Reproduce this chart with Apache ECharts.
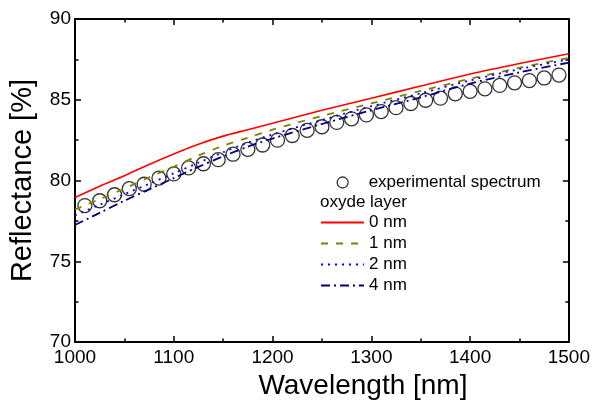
<!DOCTYPE html>
<html>
<head>
<meta charset="utf-8">
<script src="https://cdn.jsdelivr.net/npm/echarts@6/dist/echarts.min.js"></script>
<style>html,body{margin:0;padding:0;background:#fff;}#c{width:593px;height:405px;}</style>
</head>
<body>
<div id="c"></div>
<script>
// Experimental spectrum (circles)
const expWavelength = [1010,1025,1040,1055,1070,1085,1100,1115,1130,1145,1160,1175,1190,1205,1220,1235,1250,1265,1280,1295,1310,1325,1340,1355,1370,1385,1400,1415,1430,1445,1460,1475,1490];
const expReflectance = [78.45,78.75,79.12,79.5,79.77,80.15,80.41,80.78,81.04,81.29,81.63,81.93,82.2,82.5,82.79,83.11,83.33,83.6,83.82,84.06,84.27,84.51,84.77,84.97,85.1,85.37,85.52,85.68,85.89,86.05,86.19,86.35,86.53];

// Simulated spectra for oxide layer thicknesses
const modelWavelength = [1000,1025,1050,1075,1100,1125,1150,1175,1200,1250,1300,1350,1400,1450,1500];
const r0nm = [78.95,79.65,80.3,81.0,81.65,82.25,82.75,83.15,83.55,84.35,85.1,85.85,86.6,87.25,87.85];
const r1nm = [78.2,78.85,79.5,80.2,80.85,81.55,82.15,82.65,83.15,84.0,84.78,85.55,86.3,86.98,87.6];
const r2nm = [77.85,78.5,79.15,79.8,80.45,81.1,81.75,82.35,82.85,83.75,84.6,85.4,86.2,86.9,87.5];
const r4nm = [77.25,78.0,78.75,79.45,80.15,80.85,81.5,82.1,82.6,83.5,84.35,85.15,86.0,86.7,87.3];

const seriesNames = ['0 nm','1 nm','2 nm','4 nm'];
const expName = 'experimental spectrum';
const legendTitle = 'oxyde layer';
const xTitle = 'Wavelength [nm]';
const yTitle = 'Reflectance [%]';

const FONT = 'Liberation Sans, Arial, sans-serif';
const pair = (xs, ys) => xs.map((x, i) => [x, ys[i]]);

const axisCommon = {
  axisLine: { show: true, onZero: false, lineStyle: { color: '#000', width: 2 } },
  axisTick: { show: true, inside: true, length: 6, lineStyle: { color: '#000', width: 1.5 } },
  minorTick: { show: true, splitNumber: 2, length: 3.5, lineStyle: { color: '#000', width: 1.5 } },
  splitLine: { show: false },
  minorSplitLine: { show: false }
};

const chart = echarts.init(document.getElementById('c'), null, { renderer: 'canvas' });
chart.setOption({
  animation: false,
  backgroundColor: '#fff',
  grid: { left: 73, right: 24, top: 19, bottom: 57, containLabel: false },
  xAxis: [
    Object.assign({
      type: 'value', min: 1000, max: 1500, interval: 100, position: 'bottom',
      name: xTitle, nameLocation: 'middle', nameGap: 19,
      nameTextStyle: { fontFamily: FONT, fontSize: 28, color: '#000', verticalAlign: 'top', padding: [0, 0, 0, 82] },
      axisLabel: { fontFamily: FONT, fontSize: 19, color: '#000', margin: 6, formatter: v => String(v) }
    }, axisCommon),
    Object.assign({
      type: 'value', min: 1000, max: 1500, interval: 100, position: 'top',
      axisLabel: { show: false }
    }, axisCommon)
  ],
  yAxis: [
    Object.assign({
      type: 'value', min: 70, max: 90, interval: 5, position: 'left',
      name: yTitle, nameLocation: 'middle', nameGap: 38,
      nameTextStyle: { fontFamily: FONT, fontSize: 29, color: '#000' },
      axisLabel: { fontFamily: FONT, fontSize: 19, color: '#000', margin: 4, formatter: v => String(v) }
    }, axisCommon),
    Object.assign({
      type: 'value', min: 70, max: 90, interval: 5, position: 'right',
      axisLabel: { show: false }
    }, axisCommon)
  ],
  legend: [
    {
      data: [expName], orient: 'vertical', left: 336.5, top: 174, padding: 0,
      itemWidth: 11, itemHeight: 11, icon: 'circle',
      textStyle: { fontFamily: FONT, fontSize: 17, color: '#000', lineHeight: 17, padding: [0, 0, 0, 15.5] },
      itemStyle: { color: 'transparent', borderColor: '#000', borderWidth: 1.3 }
    },
    {
      data: seriesNames, orient: 'vertical', left: 320, top: 214, padding: 0,
      itemWidth: 43, itemHeight: 10, itemGap: 4,
      itemStyle: { opacity: 0 },
      textStyle: { fontFamily: FONT, fontSize: 17, color: '#000', lineHeight: 17 }
    }
  ],
  graphic: [
    { type: 'text', left: 320, top: 194, style: { text: legendTitle, font: '17px ' + FONT, fill: '#000' } }
  ],
  series: [
    {
      name: expName, type: 'scatter', data: pair(expWavelength, expReflectance),
      symbol: 'circle', symbolSize: 14, z: 2,
      itemStyle: { color: 'transparent', borderColor: '#000', borderWidth: 1.3 }
    },
    {
      name: seriesNames[0], type: 'line', data: pair(modelWavelength, r0nm), smooth: 0.3,
      showSymbol: false, symbol: 'none', z: 3,
      lineStyle: { color: '#ff0000', width: 1.6, type: 'solid' }, itemStyle: { color: '#ff0000' }
    },
    {
      name: seriesNames[1], type: 'line', data: pair(modelWavelength, r1nm), smooth: 0.3,
      showSymbol: false, symbol: 'none', z: 3,
      lineStyle: { color: '#808000', width: 1.8, type: [7, 8] }, itemStyle: { color: '#808000' }
    },
    {
      name: seriesNames[2], type: 'line', data: pair(modelWavelength, r2nm), smooth: 0.3,
      showSymbol: false, symbol: 'none', z: 3,
      lineStyle: { color: '#0000ff', width: 1.8, type: [2, 5] }, itemStyle: { color: '#0000ff' }
    },
    {
      name: seriesNames[3], type: 'line', data: pair(modelWavelength, r4nm), smooth: 0.3,
      showSymbol: false, symbol: 'none', z: 3,
      lineStyle: { color: '#000080', width: 1.8, type: [9, 4, 2, 4] }, itemStyle: { color: '#000080' }
    }
  ]
});
</script>
</body>
</html>
